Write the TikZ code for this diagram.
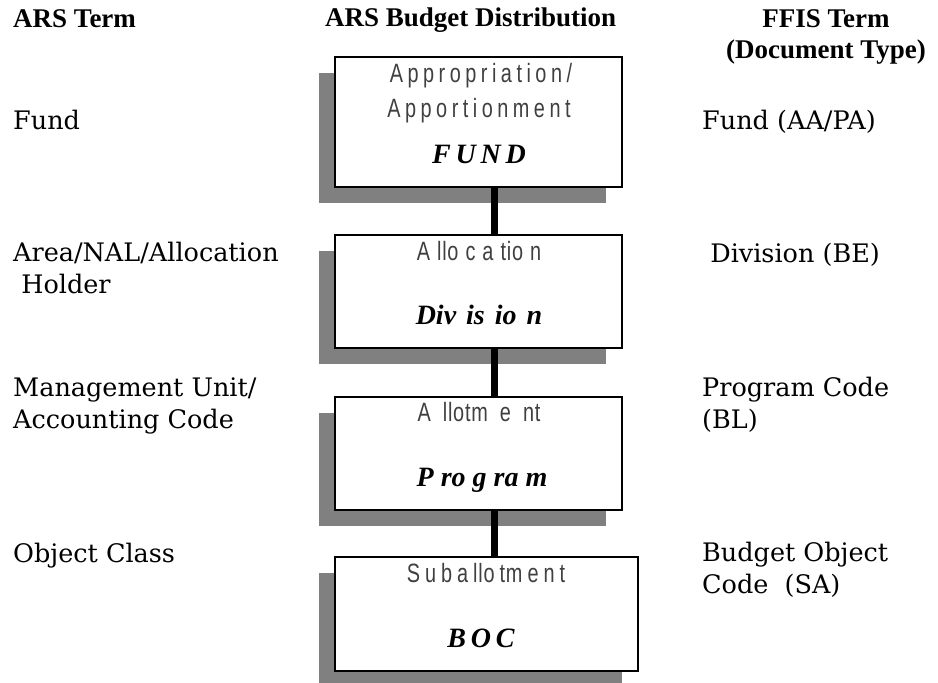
\documentclass[tikz,border=0pt]{standalone}
\usepackage{fontspec}
\setmainfont{Liberation Serif}
\newfontfamily\bodyfont{DejaVu Serif}
\newfontfamily\thinsans[FakeStretch=0.75,LetterSpace=17]{Liberation Sans}
\newfontfamily\thintight[FakeStretch=0.75,LetterSpace=3]{Liberation Sans}
\newfontfamily\bisans[LetterSpace=17]{Liberation Serif}
\newfontfamily\bitight{Liberation Serif}
\newcommand\gk[1]{\kern#1pt\relax}
\begin{document}
\begin{tikzpicture}[x=1pt,y=-1pt,
  hdr/.style={font=\fontsize{27}{31}\selectfont\bfseries, inner sep=0pt},
  lbl/.style={font=\bodyfont\fontsize{25.5}{32}\selectfont, inner sep=0pt, anchor=base west, align=left},
  boxframe/.style={draw=black, line width=2pt, fill=white},
  shadowbox/.style={fill=black!50, draw=none},
  thin/.style={font=\thinsans\fontsize{26.5}{33}\selectfont, text=black!75, inner sep=0pt, anchor=base},
  thint/.style={font=\thintight\fontsize{26.5}{33}\selectfont, text=black!75, inner sep=0pt, anchor=base},
  bold/.style={font=\bisans\fontsize{28}{32}\selectfont\bfseries\itshape, inner sep=0pt, anchor=base},
  boldt/.style={font=\bitight\fontsize{28}{32}\selectfont\bfseries\itshape, inner sep=0pt, anchor=base},
  link/.style={line width=7pt, black}]
\useasboundingbox (0,0) rectangle (938,683);
\fill[white] (0,0) rectangle (938,683);
% headers
\node[hdr, anchor=base west] (h1) at (13,27) {ARS Term};
\node[hdr, anchor=base west] (h2) at (325,26) {ARS Budget Distribution};
\node[hdr, anchor=base] (h3) at (826,27) {FFIS Term};
\node[hdr, anchor=base] (h4) at (826,58) {(Document Type)};
% shadows
\fill[shadowbox] (319,73) rectangle (606,203);
\fill[shadowbox] (319,251) rectangle (606,364);
\fill[shadowbox] (319,413) rectangle (606,526);
\fill[shadowbox] (319,573) rectangle (622,690);
% boxes
\node[boxframe, minimum width=287pt, minimum height=130pt, inner sep=0pt] (b1) at (478.5,122) {};
\node[boxframe, minimum width=287pt, minimum height=113pt, inner sep=0pt] (b2) at (478.5,291.5) {};
\node[boxframe, minimum width=287pt, minimum height=113pt, inner sep=0pt] (b3) at (478.5,453.5) {};
\node[boxframe, minimum width=303pt, minimum height=114pt, inner sep=0pt] (b4) at (486.5,614) {};
\coordinate (cx) at (494.5,0);
\draw[link] (b1.south -| cx) -- (b2.north -| cx);
\draw[link] (b2.south -| cx) -- (b3.north -| cx);
\draw[link] (b3.south -| cx) -- (b4.north -| cx);
% box texts
\node[thin] (t1a) at (481,82) {Appropriation/};
\node[thin] (t1b) at (479,117) {Apportionment};
\node[bold] (t1c) at (479,163) {FUND};
\node[thint] (t2a) at (479,260) {A\gk{7}llo\gk{7}c\gk{7}a\gk{7}tio\gk{7}n};
\node[boldt] (t2b) at (479,324) {Div\gk{10}is\gk{10}io\gk{10}n};
\node[thint] (t3a) at (479,421) {A\gk{12}llotm\gk{12}e\gk{12}nt};
\node[boldt] (t3b) at (482,486) {P\gk{7}ro\gk{7}g\gk{7}ra\gk{7}m};
\node[thint] (t4a) at (486,582) {S\gk{5}u\gk{5}b\gk{5}a\gk{5}llo\gk{5}tm\gk{5}e\gk{5}n\gk{5}t};
\node[bold] (t4b) at (481,647) {BOC};
% left column
\node[lbl] (l1) at (13,129) {Fund};
\node[lbl] (l2) at (13,293) {Area/NAL/Allocation\\\ Holder};
\node[lbl] (l3) at (13,428) {Management Unit/\\Accounting Code};
\node[lbl] (l4) at (13,562) {Object Class};
% right column
\node[lbl] (r1) at (702,129) {Fund (AA/PA)};
\node[lbl] (r2) at (702,262) {\ Division (BE)};
\node[lbl] (r3) at (702,428) {Program Code\\(BL)};
\node[lbl] (r4) at (702,593) {Budget Object\\Code\ \ (SA)};
\end{tikzpicture}
\end{document}
